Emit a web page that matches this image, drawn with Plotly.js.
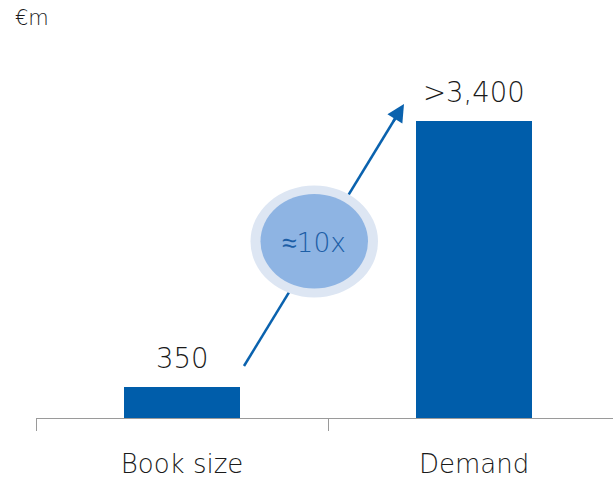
<!DOCTYPE html>
<html>
<head>
<meta charset="utf-8">
<script src="https://cdn.plot.ly/plotly-3.0.1.min.js"></script>
<style>
  html, body { margin: 0; padding: 0; background: #ffffff; }
  #chart { width: 613px; height: 478px; }
</style>
</head>
<body>
<div id="chart"></div>
<script>
// ---- data ----
const categories = ["Book size", "Demand"];
const values = [350, 3400];
const valueLabels = ["350", ">3,400"];
const unitLabel = "€m";
const multipleLabel = "≈10x";

// ---- styling ----
const barColor = "#005DAA";
const arrowColor = "#0A62AE";
const textColor = "#1a1a1a";
const fontFamily = "'DejaVu Sans ExtraLight', 'DejaVu Sans Light', 'DejaVu Sans', sans-serif";
const fontWeight = 200;

// geometry helpers (pixel -> data for decorations)
const W = 613, H = 478;
const margin = {l: 36, r: 0, t: 0, b: 60};
const xRange = [-0.5, 1.476];
const yRange = [0, 4785];
const plotW = W - margin.l - margin.r;
const plotH = H - margin.t - margin.b;
function px2x(px) { return xRange[0] + (px - margin.l) / plotW * (xRange[1] - xRange[0]); }
function py2y(py) { return yRange[0] + (margin.t + plotH - py) / plotH * (yRange[1] - yRange[0]); }

// arrow decoration (pixel positions)
const arrowStart = [244, 366];
const arrowTip = [404, 104];
const dx = arrowTip[0] - arrowStart[0], dy = arrowTip[1] - arrowStart[1];
const len = Math.sqrt(dx * dx + dy * dy);
const ux = dx / len, uy = dy / len;
const headLen = 14;
const lineEnd = [arrowTip[0] - ux * (headLen - 2), arrowTip[1] - uy * (headLen - 2)];

const trace = {
  type: "bar",
  x: categories,
  y: values,
  width: 0.4,
  marker: {color: barColor},
  hoverinfo: "skip"
};

const annotations = categories.map((c, i) => ({
  x: c, y: values[i], xref: "x", yref: "y",
  text: valueLabels[i], showarrow: false,
  yanchor: "bottom", yshift: 11,
  font: {family: fontFamily, size: 27.5, color: textColor, weight: fontWeight}
}));

annotations.push({
  xref: "paper", yref: "paper",
  x: (13 - margin.l) / plotW, y: (margin.t + plotH - 18) / plotH,
  xanchor: "left", yanchor: "middle",
  text: unitLabel, showarrow: false,
  font: {family: fontFamily, size: 21, color: textColor, weight: fontWeight}
});

// arrow head
annotations.push({
  xref: "x", yref: "y",
  x: px2x(arrowTip[0]), y: py2y(arrowTip[1]),
  ax: -ux * 22, ay: -uy * 22,
  showarrow: true, arrowhead: 2, arrowsize: 1.4, arrowwidth: 2.5,
  arrowcolor: arrowColor, standoff: 0, text: ""
});

// circle label
annotations.push({
  xref: "x", yref: "y",
  x: px2x(314), y: py2y(242),
  text: multipleLabel, showarrow: false,
  xanchor: "center", yanchor: "middle",
  font: {family: fontFamily, size: 26.5, color: "#1C5EA6", weight: fontWeight}
});

const shapes = [
  {type: "line", xref: "x", yref: "y", layer: "above",
   x0: px2x(arrowStart[0]), y0: py2y(arrowStart[1]),
   x1: px2x(lineEnd[0]), y1: py2y(lineEnd[1]),
   line: {color: arrowColor, width: 2.5}},
  {type: "circle", xref: "x", yref: "y", layer: "above",
   x0: px2x(250.5), x1: px2x(378), y0: py2y(297.5), y1: py2y(185.5),
   fillcolor: "#DDE6F3", line: {width: 0}},
  {type: "circle", xref: "x", yref: "y", layer: "above",
   x0: px2x(260.5), x1: px2x(368), y0: py2y(288.5), y1: py2y(194),
   fillcolor: "#8EB4E3", line: {width: 0}}
];

const layout = {
  width: W, height: H,
  margin: margin,
  paper_bgcolor: "#ffffff", plot_bgcolor: "#ffffff",
  showlegend: false,
  bargap: 0,
  font: {family: fontFamily, color: textColor},
  xaxis: {
    type: "category",
    range: xRange,
    tickson: "boundaries",
    ticks: "outside", ticklen: 12, tickwidth: 1, tickcolor: "#9A9A9A",
    showline: true, linecolor: "#9A9A9A", linewidth: 1,
    showgrid: false, zeroline: false,
    ticklabelstandoff: 23,
    tickfont: {family: fontFamily, size: 26, color: textColor, weight: fontWeight},
    fixedrange: true
  },
  yaxis: {range: yRange, visible: false, showgrid: false, zeroline: false, fixedrange: true},
  annotations: annotations,
  shapes: shapes
};

Plotly.newPlot("chart", [trace], layout, {displayModeBar: false, staticPlot: true});
</script>
</body>
</html>
